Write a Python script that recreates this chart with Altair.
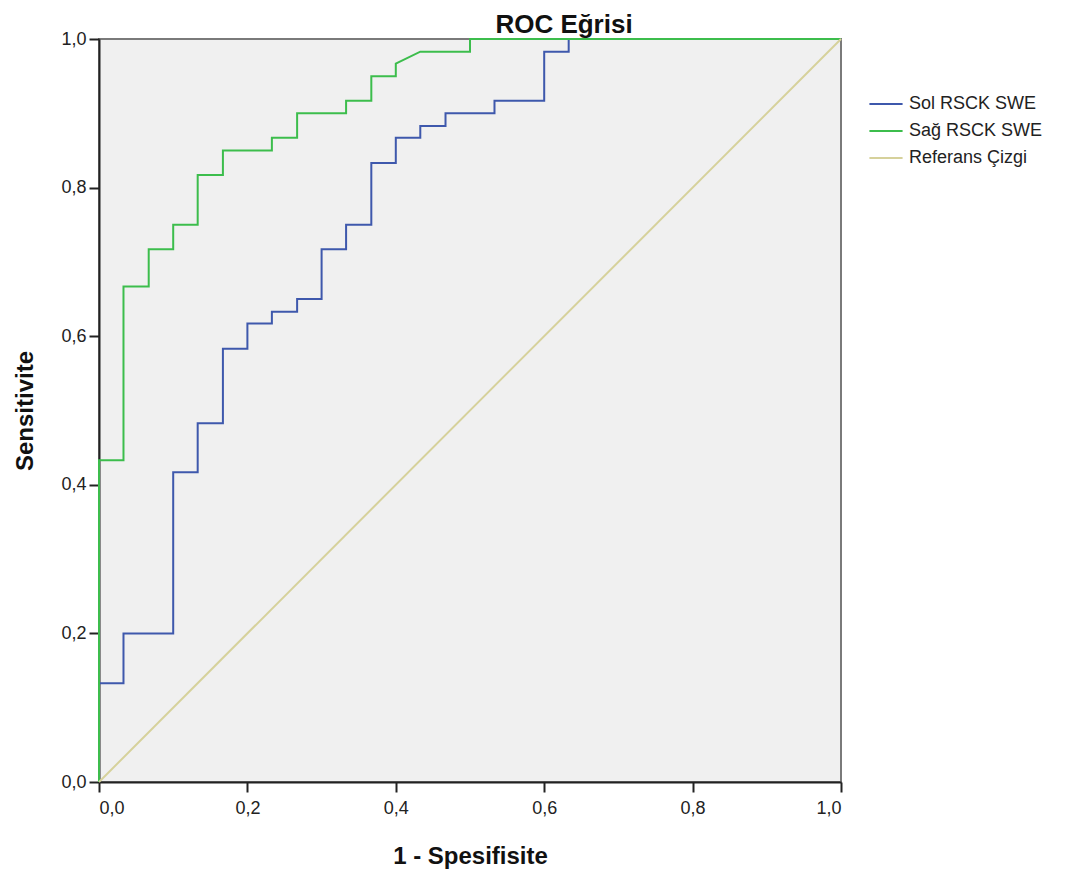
import altair as alt
import pandas as pd

# Sol RSCK SWE (blue) ROC vertices
sol_fpr = [0, 0, 0.033, 0.033, 0.1, 0.1, 0.133, 0.133, 0.167, 0.167, 0.2, 0.2,
           0.233, 0.233, 0.267, 0.267, 0.3, 0.3, 0.333, 0.333, 0.367, 0.367,
           0.4, 0.4, 0.433, 0.433, 0.467, 0.467, 0.533, 0.533, 0.6, 0.6,
           0.633, 0.633, 1.0]
sol_tpr = [0, 0.133, 0.133, 0.2, 0.2, 0.417, 0.417, 0.483, 0.483, 0.583, 0.583, 0.617,
           0.617, 0.633, 0.633, 0.65, 0.65, 0.717, 0.717, 0.75, 0.75, 0.833,
           0.833, 0.867, 0.867, 0.883, 0.883, 0.9, 0.9, 0.917, 0.917, 0.983,
           0.983, 1.0, 1.0]

# Sağ RSCK SWE (green) ROC vertices
sag_fpr = [0, 0, 0.033, 0.033, 0.067, 0.067, 0.1, 0.1, 0.133, 0.133, 0.167, 0.167,
           0.233, 0.233, 0.267, 0.267, 0.333, 0.333, 0.367, 0.367, 0.4, 0.4,
           0.433, 0.5, 0.5, 1.0]
sag_tpr = [0, 0.433, 0.433, 0.667, 0.667, 0.717, 0.717, 0.75, 0.75, 0.817, 0.817, 0.85,
           0.85, 0.867, 0.867, 0.9, 0.9, 0.917, 0.917, 0.95, 0.95, 0.967,
           0.983, 0.983, 1.0, 1.0]

# Referans Çizgi
ref_fpr = [0.0, 1.0]
ref_tpr = [0.0, 1.0]

series_names = ["Sol RSCK SWE", "Sağ RSCK SWE", "Referans Çizgi"]
series_colors = ["#3E58AC", "#3CBD4C", "#D6D19B"]

rows = []
for name, xs, ys in [(series_names[0], sol_fpr, sol_tpr),
                     (series_names[1], sag_fpr, sag_tpr),
                     (series_names[2], ref_fpr, ref_tpr)]:
    for i, (x, y) in enumerate(zip(xs, ys)):
        rows.append({"seri": name, "fpr": x, "tpr": y, "ord": i})
df = pd.DataFrame(rows)

ticks = [0, 0.2, 0.4, 0.6, 0.8, 1.0]
lab = "replace(format(datum.value, '.1f'), '.', ',')"
FONT = "Liberation Sans"

chart = alt.Chart(df).mark_line(strokeWidth=2, clip=False).encode(
    x=alt.X("fpr:Q", scale=alt.Scale(domain=[0, 1], nice=False),
            axis=alt.Axis(title="1 - Spesifisite", values=ticks, labelExpr=lab,
                          grid=False, tickSize=10, tickWidth=2, tickColor="#222",
                          domainColor="#222", domainWidth=2,
                          labelFontSize=18, labelColor="#222", labelPadding=7,
                          titleFontSize=24, titleFontWeight="bold", titleColor="#111",
                          titlePadding=27, labelFont=FONT, titleFont=FONT)),
    y=alt.Y("tpr:Q", scale=alt.Scale(domain=[0, 1], nice=False),
            axis=alt.Axis(title="Sensitivite", values=ticks, labelExpr=lab,
                          grid=False, tickSize=10, tickWidth=2, tickColor="#222",
                          domainColor="#222", domainWidth=2,
                          labelFontSize=18, labelColor="#222", labelPadding=3,
                          titleFontSize=24, titleFontWeight="bold", titleColor="#111",
                          titlePadding=23, labelFont=FONT, titleFont=FONT)),
    color=alt.Color("seri:N",
                    scale=alt.Scale(domain=series_names, range=series_colors),
                    sort=series_names,
                    legend=alt.Legend(title=None, orient="none", legendX=769, legendY=47,
                                      symbolType="stroke", symbolSize=1100,
                                      symbolStrokeWidth=2, labelFontSize=18,
                                      labelFont=FONT, labelColor="#222",
                                      rowPadding=-7, labelOffset=5)),
    order="ord:Q",
    detail="seri:N",
).properties(
    width=742, height=743,
    title=alt.TitleParams("ROC Eğrisi", fontSize=26, fontWeight="bold", font=FONT,
                          color="#111", anchor="middle", frame="group", dx=94, offset=-8),
    padding={"left": 5, "top": 4, "right": 5, "bottom": 5},
    background="white",
).configure_view(
    fill="#F0F0F0", stroke="#7A7A7A", strokeWidth=2
)

chart.save("out.html", embed_options={"renderer": "svg", "actions": False})
